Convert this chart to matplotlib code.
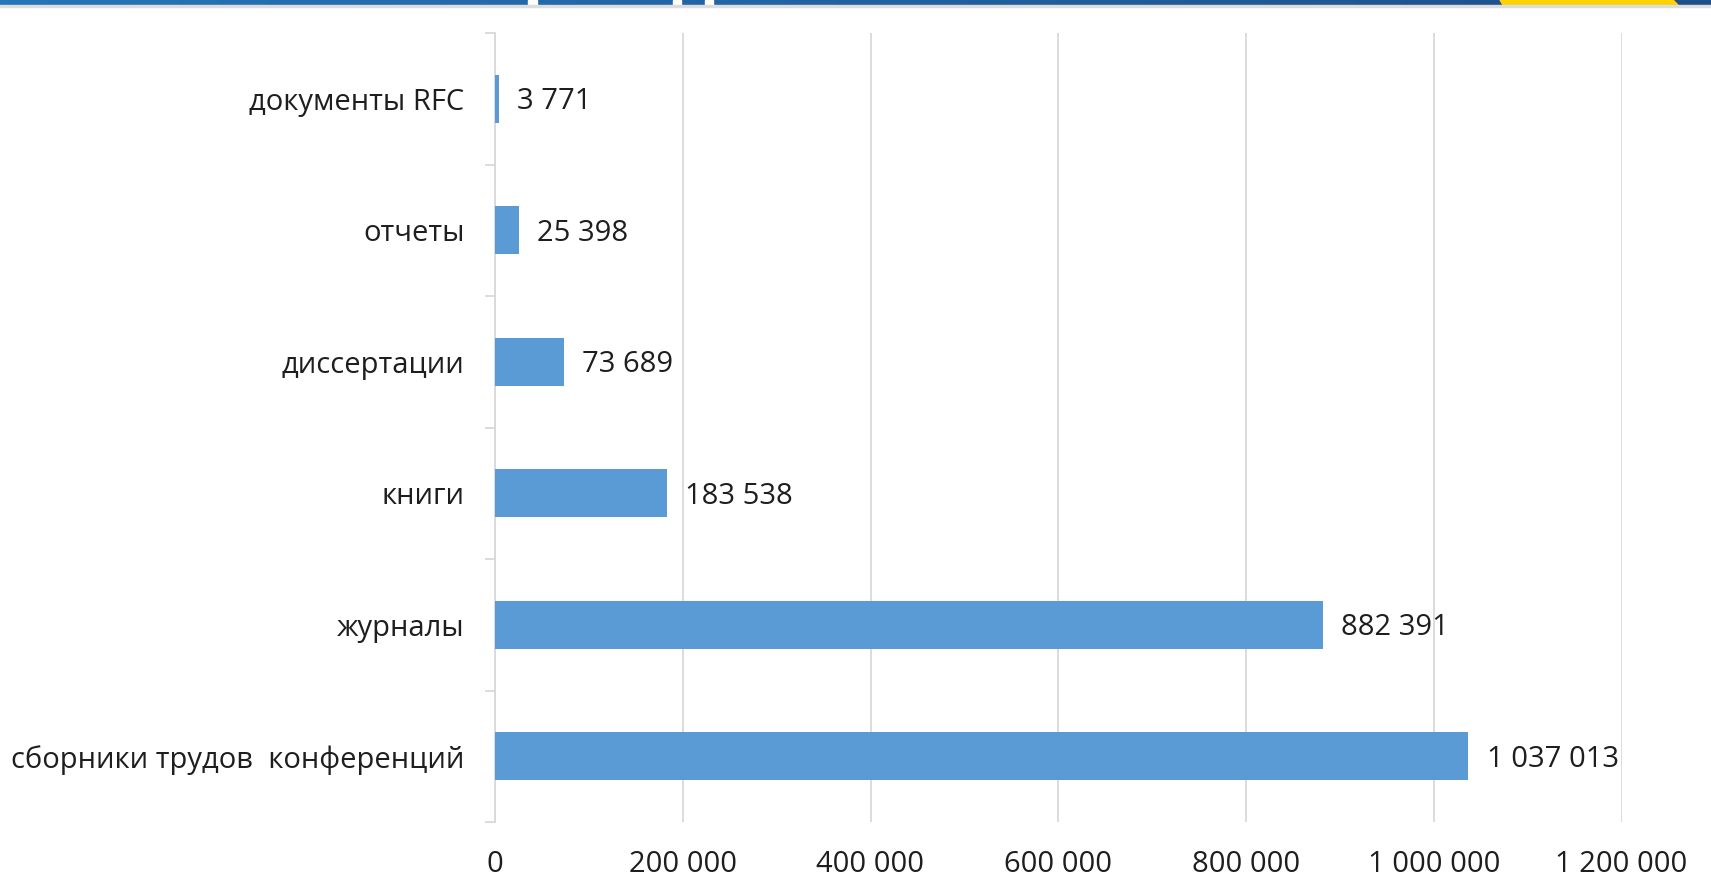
import matplotlib.pyplot as plt
import numpy as np
from matplotlib.patches import Rectangle, Polygon
from matplotlib.colors import LinearSegmentedColormap

# Data (top to bottom as shown)
categories = ['документы RFC', 'отчеты', 'диссертации', 'книги', 'журналы',
              'сборники трудов  конференций']
values = [3771, 25398, 73689, 183538, 882391, 1037013]
xticks = [0, 200000, 400000, 600000, 800000, 1000000, 1200000]

BAR_COLOR = '#5B9BD5'
GRID_COLOR = '#D9D9D9'
TEXT_COLOR = '#1E1E1E'
FS = 21

plt.rcParams['font.family'] = ['Open Sans', 'DejaVu Sans']

W, H = 1711, 894
fig = plt.figure(figsize=(W / 100, H / 100), dpi=100)

def fmt(v):
    return f'{v:,}'.replace(',', ' ')

# main chart
ax = fig.add_axes([495 / W, 1 - 822 / H, (1621.5 - 495) / W, (822 - 33) / H])
y = np.arange(len(categories))
ax.barh(y, values, height=0.365, color=BAR_COLOR, zorder=3)
ax.set_ylim(len(categories) - 0.5, -0.5)
ax.set_xlim(0, 1200000)

# value labels, digits centred on the bar
for yi, v in zip(y, values):
    ax.annotate(fmt(v), xy=(v, yi), xytext=(13, -7.6), textcoords='offset points',
                va='baseline', ha='left', fontsize=FS, color=TEXT_COLOR, zorder=4)

ax.set_xticks(xticks)
ax.set_xticklabels([fmt(t) for t in xticks], fontsize=FS, color=TEXT_COLOR)
ax.tick_params(axis='x', length=0, pad=20)
ax.grid(axis='x', color=GRID_COLOR, linewidth=1.3, zorder=0)

ax.set_yticks(y)
ax.set_yticklabels(categories, fontsize=FS, color=TEXT_COLOR)
ax.tick_params(axis='y', which='major', length=0, pad=22)
ax.set_yticks(np.arange(len(categories) + 1) - 0.5, minor=True)
ax.tick_params(axis='y', which='minor', length=7, width=1.3, color=GRID_COLOR)

for s in ['top', 'right', 'bottom']:
    ax.spines[s].set_visible(False)
ax.spines['left'].set_color(GRID_COLOR)
ax.spines['left'].set_linewidth(1.3)

# header strip at the top
hax = fig.add_axes([0, 1 - 5 / H, 1, 5 / H])
grad = np.linspace(0, 1, 256).reshape(1, -1)
cmap = LinearSegmentedColormap.from_list('hdr', ['#2675B8', '#1F4E89'])
hax.imshow(grad, aspect='auto', cmap=cmap, extent=[0, W, 0, 5])
for x0, x1 in [(528, 537), (673, 681), (705, 713)]:
    hax.add_patch(Rectangle((x0, 0), x1 - x0, 5, color='white'))
hax.add_patch(Polygon([(1500, 5), (1673, 5), (1678, 0), (1503, 0)],
                      closed=True, color='#FFD200'))
hax.set_xlim(0, W)
hax.set_ylim(0, 5)
hax.axis('off')
fig.add_artist(Rectangle((0, 1 - 7 / H), 1, 2 / H, transform=fig.transFigure,
                         color='#DDDDDD'))

fig.savefig('out.png', dpi=100)
